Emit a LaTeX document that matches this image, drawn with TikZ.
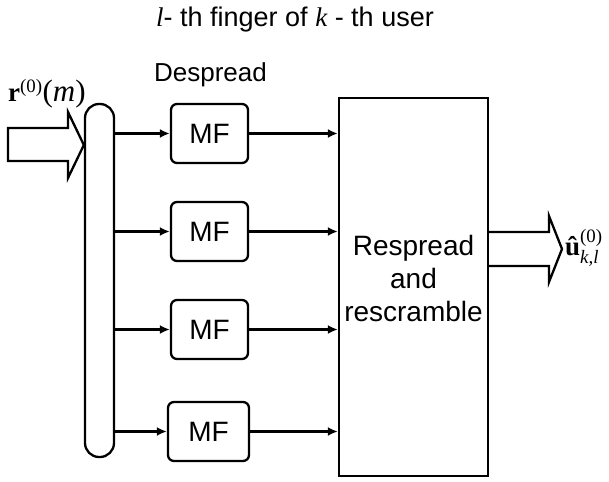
\documentclass[tikz,border=0pt]{standalone}
\usepackage{fontspec}
\usepackage{amsmath}
\setmainfont{Liberation Sans}
\newfontfamily\tnr{Liberation Serif}
\usetikzlibrary{arrows.meta}

\begin{document}
\begin{tikzpicture}[x=1pt,y=-1pt,line width=2.3pt,
  mfbox/.style={draw, rounded corners=6pt, minimum width=77pt, minimum height=59pt,
    inner sep=0pt, font=\fontsize{28}{30}\selectfont},
  sig/.style={-{Latex[length=10pt,width=9pt]}},
  blockarrow/.style={draw, fill=white, line join=miter},
  lbl/.style={inner sep=0pt}]
\useasboundingbox (0,0) rectangle (609,481);

% title and stage label
\node[lbl, anchor=base] (title) at (295,27)
  {\fontsize{27}{30}\selectfont{\tnr\itshape l}- th finger of {\tnr\itshape k} - th user};
\node[lbl, anchor=base] (despread) at (210.5,82)
  {\fontsize{26}{28}\selectfont Despread};

% splitter bus
\node[draw, rounded corners=14pt, minimum width=29pt, minimum height=353pt, inner sep=0pt]
  (bus) at (99.5,280.5) {};

% matched filters
\node[mfbox] (mf1) at (209.5,133.5) {MF};
\node[mfbox] (mf2) at (209.5,231.5) {MF};
\node[mfbox] (mf3) at (209.5,329.5) {MF};
\node[mfbox, minimum width=81pt] (mf4) at (208.5,431.5) {MF};

% respread / rescramble block
\node[draw, minimum width=149pt, minimum height=378pt, inner sep=0pt] (big) at (413.5,287) {};
\node[lbl, align=center, font=\fontsize{28}{33}\selectfont] (bigtxt) at (413.5,278)
  {Respread\\and\\rescramble};

% branches
\foreach \i in {1,2,3,4}{
  \draw[sig] (bus.east |- mf\i) -- (mf\i.west);
  \draw[sig] (mf\i.east) -- (big.west |- mf\i);
}

% input block arrow
\coordinate (inTip) at (bus.west |- 0,145);
\draw[blockarrow] (8,128) -- (68,128) -- (68,112) -- (inTip) -- (68,178) -- (68,161) -- (8,161) -- cycle;
\node[lbl, anchor=base west] (rin) at (7,102)
  {\tnr\fontsize{27}{30}\selectfont$\text{\bfseries r}^{\text{(0)}}$\fontsize{31}{31}\selectfont(\textit{m})};

% output block arrow
\coordinate (outBase) at (big.east |- 0,249);
\draw[blockarrow] (outBase |- 0,232) -- (549,232) -- (549,216) -- (562,249) -- (549,282) -- (549,266) -- (outBase |- 0,266);
\node[lbl, anchor=base west] (uout) at (564,255)
  {\tnr\fontsize{27}{28}\selectfont$\text{\bfseries û}^{\text{(0)}}_{\text{\itshape k,l}}$};
\end{tikzpicture}
\end{document}
